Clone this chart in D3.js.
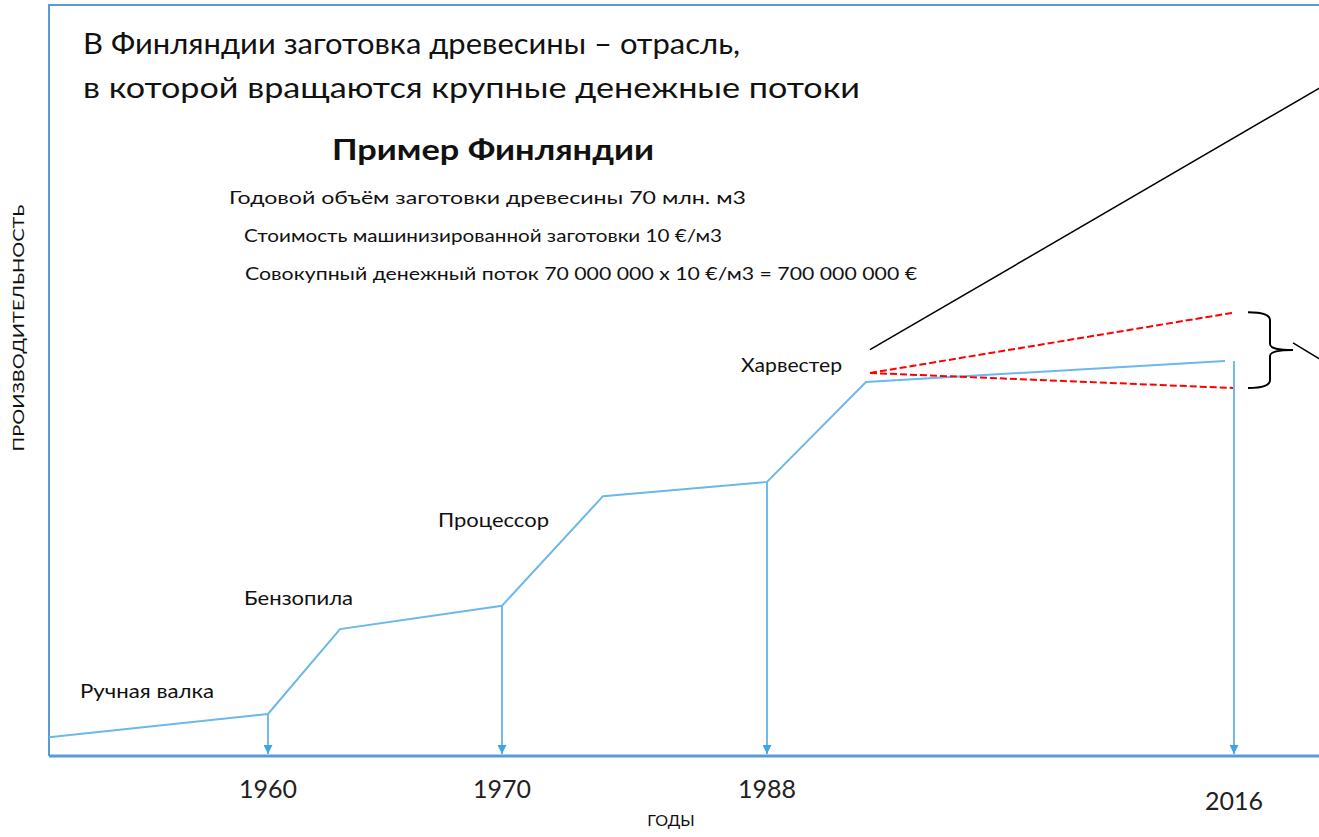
<!DOCTYPE html>
<html lang="ru">
<head>
<meta charset="UTF-8">
<title>Пример Финляндии</title>
<script src="https://d3js.org/d3.v7.min.js"></script>
<style>
  body { margin: 0; background: #fff; }
  text { font-family: Lato, "Noto Sans", sans-serif; fill: #111; }
</style>
</head>
<body>
<div id="chart"></div>
<script>
// milestone years on the time axis and their position (stage units, axis is not linear)
var years = ["1960", "1970", "1988", "2016"];
var yearPos = [21.9, 45.3, 71.8, 118.5];
// productivity level reached at each milestone (arrow start)
var yearLevel = [5.6, 20.0, 36.5, 52.6];

// productivity curve: stage position / productivity level
var curveX = [0, 21.9, 29.1, 45.3, 55.4, 71.8, 81.7, 117.6];
var curveY = [2.5, 5.6, 16.9, 20.0, 34.6, 36.5, 49.8, 52.6];

// technology stages
var stages = ["Ручная валка", "Бензопила", "Процессор", "Харвестер"];

// forecast fan after the harvester (red dashed)
var fanStart = [82.1, 51.0];
var fanEndX = [118.3, 118.4];
var fanEndY = [59.0, 49.0];

// black trend line
var trendX = [82.1, 127.5];
var trendY = [54.1, 89.3];

var titleLines = ["В Финляндии заготовка древесины – отрасль,",
                  "в которой вращаются крупные денежные потоки"];
var infoLines = ["Годовой объём заготовки древесины 70 млн. м3",
                 "Стоимость машинизированной заготовки 10 €/м3",
                 "Совокупный денежный поток 70 000 000 х 10 €/м3 = 700 000 000 €"];

var W = 1319, H = 837;
var margin = {top: 5, left: 49, bottom: 81};
var svg = d3.select("#chart").append("svg")
    .attr("width", W).attr("height", H);

var x = d3.scaleLinear().domain([0, 127]).range([margin.left, W]);
var y = d3.scaleLinear().domain([0, 100]).range([H - margin.bottom, margin.top]);

var axisBlue = "#5b9bd5", lineBlue = "#6ab9ea";

svg.append("defs").append("marker")
    .attr("id", "arr").attr("viewBox", "0 0 10 10")
    .attr("refX", 10).attr("refY", 5)
    .attr("markerWidth", 10).attr("markerHeight", 9)
    .attr("markerUnits", "userSpaceOnUse")
    .attr("orient", "auto")
  .append("path").attr("d", "M0,0 L10,5 L0,10 Z").attr("fill", "#3fa6e4");

// frame
svg.append("path")
    .attr("d", "M" + x(0) + "," + y(0) + " L" + x(0) + "," + y(100) + " L" + (W + 5) + "," + y(100))
    .attr("fill", "none").attr("stroke", axisBlue).attr("stroke-width", 2);

// bottom axis
svg.append("line")
    .attr("x1", x(0)).attr("x2", W + 5).attr("y1", y(0)).attr("y2", y(0))
    .attr("stroke", axisBlue).attr("stroke-width", 3);

// arrows from milestones down to the axis
svg.append("g").selectAll("line").data(years).enter().append("line")
    .attr("x1", function(d, i) { return x(yearPos[i]); })
    .attr("x2", function(d, i) { return x(yearPos[i]); })
    .attr("y1", function(d, i) { return y(yearLevel[i]); })
    .attr("y2", y(0) - 2)
    .attr("stroke", "#3fa6e4").attr("stroke-width", 1.5)
    .attr("marker-end", "url(#arr)");

// productivity curve
var pts = curveX.map(function(v, i) { return [x(v), y(curveY[i])]; });
svg.append("path")
    .attr("d", d3.line()(pts))
    .attr("fill", "none").attr("stroke", lineBlue).attr("stroke-width", 2);

// forecast fan
svg.append("g").selectAll("line").data(fanEndX).enter().append("line")
    .attr("x1", x(fanStart[0])).attr("y1", y(fanStart[1]))
    .attr("x2", function(d) { return x(d); })
    .attr("y2", function(d, i) { return y(fanEndY[i]); })
    .attr("stroke", "#ff0000").attr("stroke-width", 2)
    .attr("stroke-dasharray", "7,3");

// black trend line
svg.append("line")
    .attr("x1", x(trendX[0])).attr("y1", y(trendY[0]))
    .attr("x2", x(trendX[1])).attr("y2", y(trendY[1]))
    .attr("stroke", "#000").attr("stroke-width", 1.5);

// curly brace round the forecast fan
var bx0 = x(119.9), bx1 = x(122.1), bt = y(59.1), bb = y(49.0), bm = (bt + bb) / 2, tip = x(124.4);
svg.append("path")
    .attr("d", "M" + bx0 + "," + bt + " Q" + bx1 + "," + bt + " " + bx1 + "," + (bt + 8) +
               " L" + bx1 + "," + (bm - 6) + " Q" + bx1 + "," + bm + " " + tip + "," + bm +
               " Q" + bx1 + "," + bm + " " + bx1 + "," + (bm + 6) +
               " L" + bx1 + "," + (bb - 8) + " Q" + bx1 + "," + bb + " " + bx0 + "," + bb)
    .attr("fill", "none").attr("stroke", "#000").attr("stroke-width", 2);
svg.append("line")
    .attr("x1", x(124.4)).attr("y1", y(55.0))
    .attr("x2", x(127.5)).attr("y2", y(52.5))
    .attr("stroke", "#000").attr("stroke-width", 1.5);

// stage labels
var stageLabelPos = [[80, 698], [244, 605], [438, 527], [741, 372]];
var stageLabelW = [134, 109, 111, 101];
svg.append("g").selectAll("text").data(stages).enter().append("text")
    .attr("x", function(d, i) { return stageLabelPos[i][0]; })
    .attr("y", function(d, i) { return stageLabelPos[i][1]; })
    .attr("font-size", 20)
    .attr("textLength", function(d, i) { return stageLabelW[i]; })
    .attr("lengthAdjust", "spacingAndGlyphs")
    .text(function(d) { return d; });

// year labels
svg.append("g").selectAll("text").data(years).enter().append("text")
    .attr("x", function(d, i) { return x(yearPos[i]); })
    .attr("y", function(d, i) { return i === 3 ? 810 : 798; })
    .attr("text-anchor", "middle").attr("font-size", 25)
    .style("fill", "#222")
    .text(function(d) { return d; });

// axis titles
svg.append("text")
    .attr("x", 671).attr("y", 826).attr("text-anchor", "middle")
    .attr("font-size", 16).text("ГОДЫ");
svg.append("text")
    .attr("transform", "translate(24,328) rotate(-90)")
    .attr("text-anchor", "middle").attr("font-size", 16)
    .attr("textLength", 247).attr("lengthAdjust", "spacingAndGlyphs")
    .text("ПРОИЗВОДИТЕЛЬНОСТЬ");

// headline
var titleW = [657, 777];
svg.append("g").selectAll("text").data(titleLines).enter().append("text")
    .attr("x", 83).attr("y", function(d, i) { return 54 + i * 44; })
    .attr("font-size", 29)
    .attr("textLength", function(d, i) { return titleW[i]; })
    .attr("lengthAdjust", "spacingAndGlyphs")
    .text(function(d) { return d; });

svg.append("text")
    .attr("x", 332).attr("y", 160)
    .attr("font-size", 29).attr("font-weight", "bold")
    .attr("textLength", 322).attr("lengthAdjust", "spacingAndGlyphs")
    .text("Пример Финляндии");

var infoX = [229, 244, 245], infoW = [517, 478, 672];
svg.append("g").selectAll("text").data(infoLines).enter().append("text")
    .attr("x", function(d, i) { return infoX[i]; })
    .attr("y", function(d, i) { return 204 + i * 38; })
    .attr("font-size", 17)
    .attr("textLength", function(d, i) { return infoW[i]; })
    .attr("lengthAdjust", "spacingAndGlyphs")
    .text(function(d) { return d; });
</script>
</body>
</html>
